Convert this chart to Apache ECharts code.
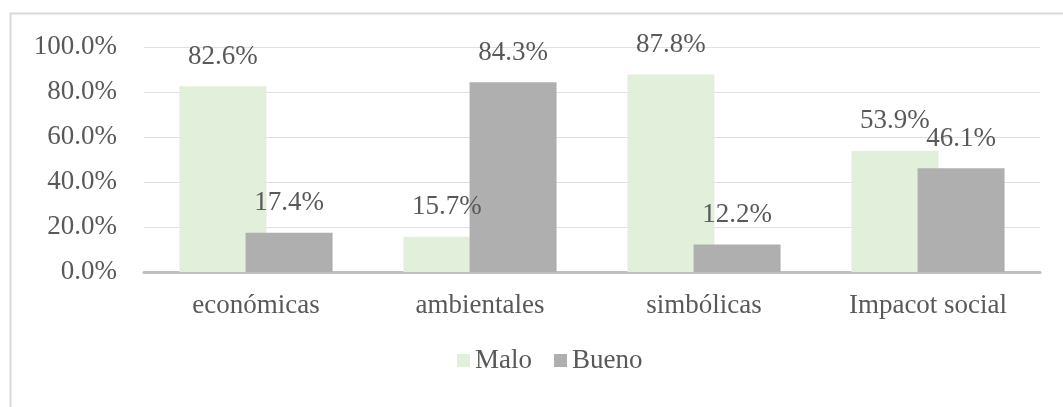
<!DOCTYPE html>
<html>
<head>
<meta charset="utf-8">
<script src="https://cdn.jsdelivr.net/npm/echarts@6/dist/echarts.min.js"></script>
<style>
  html, body { margin: 0; padding: 0; background: #fff; }
  #chart { width: 1063px; height: 407px; }
</style>
</head>
<body>
<div id="chart"></div>
<script>
const categories = ["económicas", "ambientales", "simbólicas", "Impacot social"];
const malo = [82.6, 15.7, 87.8, 53.9];
const bueno = [17.4, 84.3, 12.2, 46.1];
const yTicks = [0, 20, 40, 60, 80, 100];

const textColor = "#595959";
const fontFamily = "Liberation Serif";

const chart = echarts.init(document.getElementById("chart"));

const barLabel = {
  show: true,
  position: "top",
  distance: 16,
  color: textColor,
  fontFamily: fontFamily,
  fontSize: 27,
  formatter: (p) => `${p.value.toFixed(1)}%`,
};

chart.setOption({
  animation: false,
  backgroundColor: "#fff",
  textStyle: { fontFamily: fontFamily, color: textColor },
  graphic: [
    {
      type: "rect",
      left: 8,
      top: 11,
      shape: { width: 1200, height: 600 },
      style: { fill: "none", stroke: "#D9D9D9", lineWidth: 2 },
      silent: true,
    },
  ],
  grid: { left: 144, right: 23, top: 47, bottom: 135 },
  legend: {
    left: 452,
    top: 342,
    itemWidth: 13,
    itemHeight: 13,
    itemGap: 22,
    icon: "rect",
    textStyle: { color: textColor, fontFamily: fontFamily, fontSize: 27 },
    data: [
      { name: "Malo", textStyle: { fontFamily: fontFamily } },
      { name: "Bueno", textStyle: { fontFamily: fontFamily } },
    ],
  },
  xAxis: {
    type: "category",
    data: categories,
    axisLine: { lineStyle: { color: "#BFBFBF", width: 3 } },
    axisTick: { show: false },
    axisLabel: {
      color: textColor,
      fontFamily: fontFamily,
      fontSize: 27,
      margin: 20,
      interval: 0,
    },
  },
  yAxis: {
    type: "value",
    min: yTicks[0],
    max: yTicks[yTicks.length - 1],
    interval: 20,
    axisLine: { show: false },
    axisTick: { show: false },
    axisLabel: {
      color: textColor,
      fontFamily: fontFamily,
      fontSize: 27,
      margin: 27,
      formatter: (v) => `${v.toFixed(1)}%`,
    },
    splitLine: { lineStyle: { color: "#E0E0E0", width: 1 } },
  },
  series: [
    {
      name: "Malo",
      type: "bar",
      data: malo,
      barWidth: 87,
      barGap: "-24%",
      itemStyle: { color: "#E2EFDA" },
      label: barLabel,
    },
    {
      name: "Bueno",
      type: "bar",
      data: bueno,
      barWidth: 87,
      itemStyle: { color: "#AFAFAF" },
      label: barLabel,
    },
  ],
});
</script>
</body>
</html>
